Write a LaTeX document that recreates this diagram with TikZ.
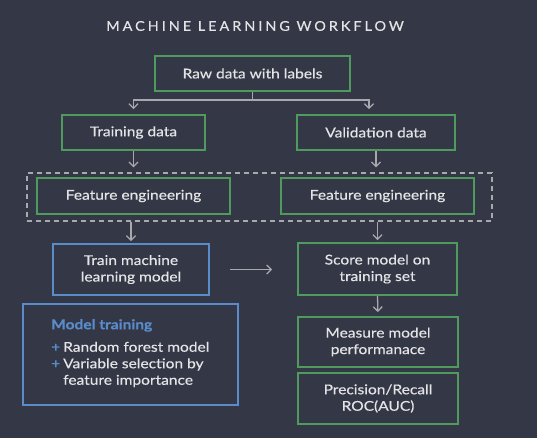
\documentclass[tikz,border=0pt]{standalone}
\usepackage{fontspec}
\setmainfont{Lato}[FakeStretch=1.15,FakeBold=0.4]
\usetikzlibrary{arrows.meta}
\definecolor{bgc}{HTML}{343846}
\definecolor{grn}{HTML}{4F9A5C}
\definecolor{blu}{HTML}{5A8CCC}
\definecolor{txt}{HTML}{E4E4E6}
\definecolor{arr}{HTML}{A8A9AE}
\begin{document}
\begin{tikzpicture}[x=1pt,y=-1pt,
  box/.style={draw=grn,line width=1.8pt,text=txt,font=\fontsize{13.5}{16.5}\selectfont,align=center,inner sep=0pt},
  bbox/.style={box,draw=blu},
  conn/.style={draw=arr,line width=1.3pt,-{Straight Barb[length=4.5pt,width=9pt,line width=1.3pt]}},
  plain/.style={draw=arr,line width=1.3pt}]
\fill[bgc] (0,0) rectangle (537,438);
\useasboundingbox (0,0) rectangle (537,438);
\node[text=txt,font=\fontsize{13.5}{16}\selectfont\addfontfeatures{LetterSpace=22,FakeStretch=1.07}] (title) at (255,26) {MACHINE LEARNING WORKFLOW};
\node[box,minimum width=195pt,minimum height=35pt] (raw) at (252.5,73.5) {Raw data with labels};
\node[box,minimum width=143pt,minimum height=35pt] (train) at (133.5,132.5) {Training data};
\node[box,minimum width=158pt,minimum height=35pt] (val) at (376,132.5) {Validation data};
\node[draw=arr,dashed,dash pattern=on 5pt off 4pt,line width=1.2pt,minimum width=465pt,minimum height=48pt,inner sep=0pt] (dash) at (259.5,197) {};
\node[box,minimum width=193pt,minimum height=36pt] (fel) at (133.5,196) {Feature engineering};
\node[box,minimum width=193pt,minimum height=36pt] (fer) at (377.5,196) {Feature engineering};
\node[bbox,minimum width=156pt,minimum height=51pt] (tml) at (131,269.5) {Train machine\\learning model};
\node[box,minimum width=159pt,minimum height=52pt] (score) at (377.5,269) {Score model on\\training set};
\node[box,minimum width=160pt,minimum height=50pt] (meas) at (378,342) {Measure model\\performanace};
\node[box,minimum width=160pt,minimum height=51pt] (prec) at (378,398.5) {Precision/Recall\\ROC(AUC)};
\node[bbox,minimum width=215pt,minimum height=101pt] (mt) at (130.5,354.5) {};
\node[anchor=north west,inner sep=0pt,text=txt,align=left,font=\fontsize{13.5}{16.5}\selectfont] (mttext) at (51,319)
  {{\color{blu}\bfseries Model training}\\[6pt]
   \makebox[12pt][l]{\color{blu}+}Random forest model\\
   \makebox[12pt][l]{\color{blu}+}Variable selection by\\
   \hspace*{12pt}feature importance};
% connectors
\draw[plain] (raw.south) -- ++(0,8) coordinate (split);
\draw[conn,shorten >=5pt] (split) -| (train.north);
\draw[conn,shorten >=5pt] (split) -| ([xshift=-7pt]val.north);
\draw[conn,shorten >=5pt] (train.south) -- (train.south |- dash.north);
\draw[conn,shorten >=5pt] (val.south) -- (val.south |- dash.north);
\draw[conn,shorten >=2pt] (dash.south -| tml.north) -- (tml.north);
\draw[conn,shorten >=2pt] (dash.south -| score.north) -- (score.north);
\draw[conn,shorten <=20pt,shorten >=25pt] (tml.east) -- (score.west |- tml.east);
\draw[conn,shorten >=4pt] (score.south) -- (meas.north);
\end{tikzpicture}
\end{document}
